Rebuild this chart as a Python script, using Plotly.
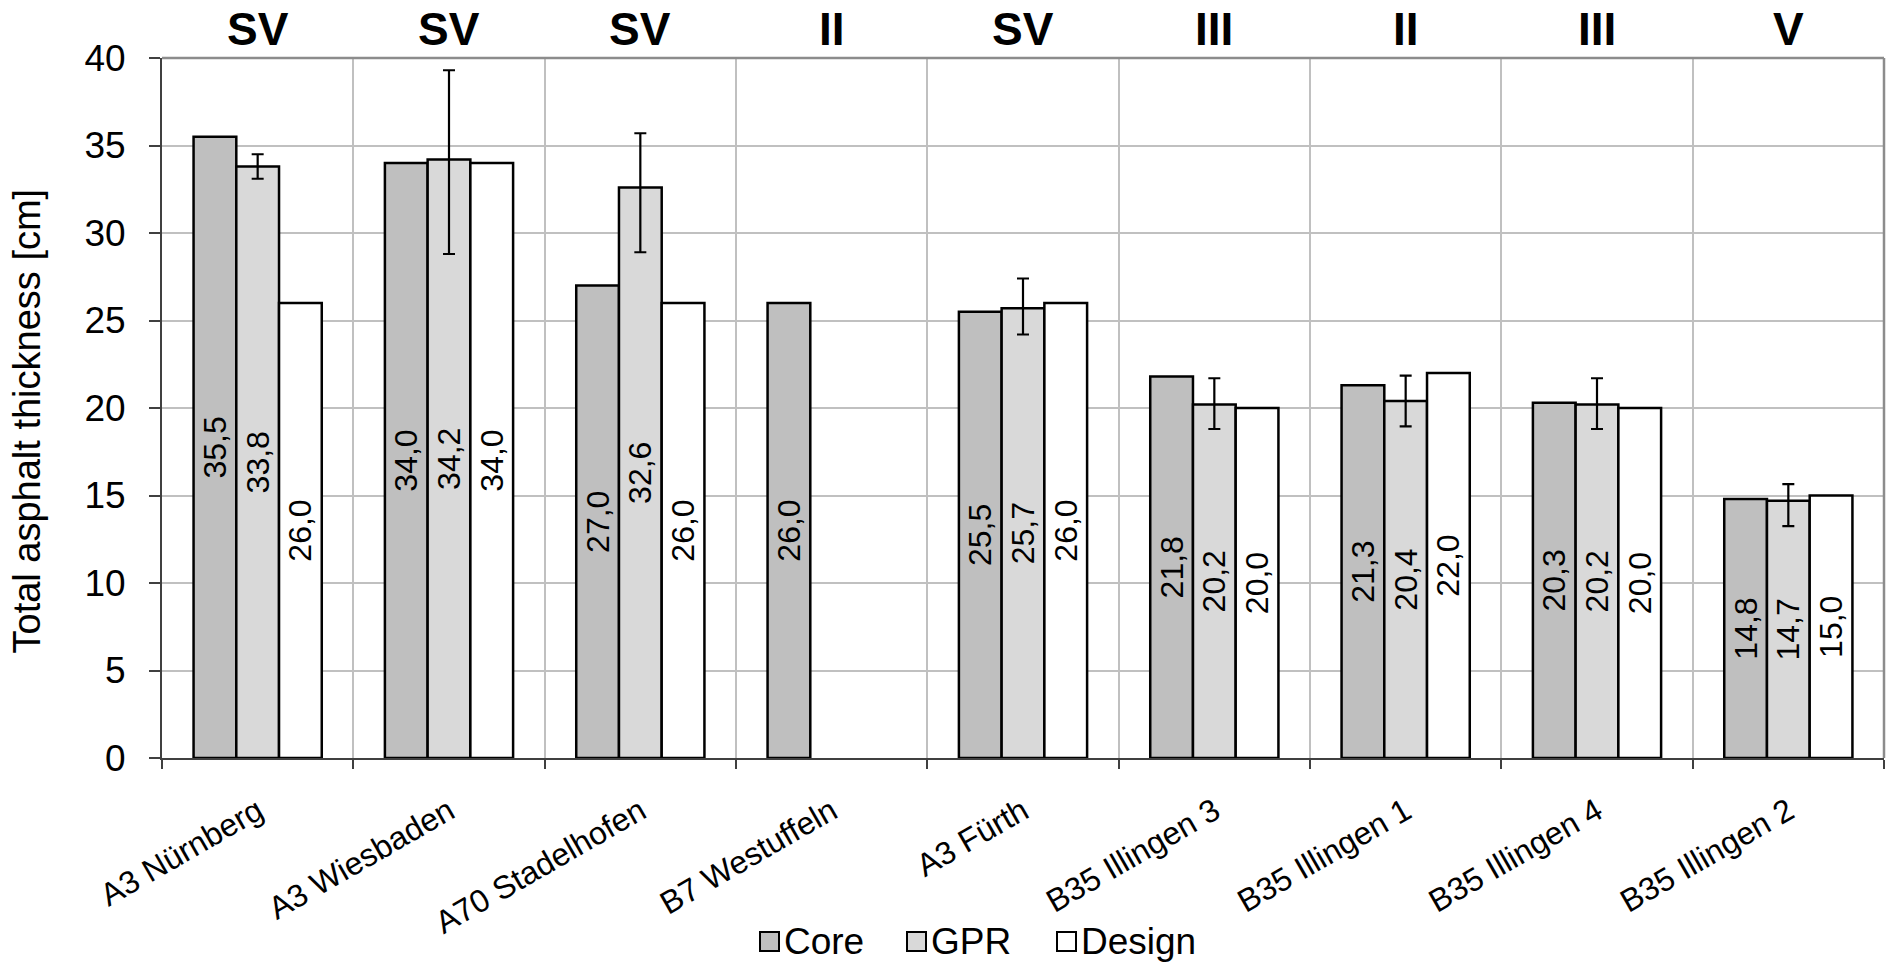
import plotly.graph_objects as go

categories = ["A3 Nürnberg", "A3 Wiesbaden", "A70 Stadelhofen", "B7 Westuffeln", "A3 Fürth",
              "B35 Illingen 3", "B35 Illingen 1", "B35 Illingen 4", "B35 Illingen 2"]
classes = ["SV", "SV", "SV", "II", "SV", "III", "II", "III", "V"]
core = [35.5, 34.0, 27.0, 26.0, 25.5, 21.8, 21.3, 20.3, 14.8]
gpr = [33.8, 34.2, 32.6, None, 25.7, 20.2, 20.4, 20.2, 14.7]
design = [26.0, 34.0, 26.0, None, 26.0, 20.0, 22.0, 20.0, 15.0]
gpr_err_plus = [0.7, 5.1, 3.1, 0, 1.7, 1.5, 1.45, 1.5, 0.95]
gpr_err_minus = [0.7, 5.4, 3.7, 0, 1.5, 1.4, 1.45, 1.4, 1.45]

series_names = ["Core", "GPR", "Design"]
series_colors = ["#BFBFBF", "#D9D9D9", "#FFFFFF"]

FONT = "Liberation Sans, Arial, sans-serif"
W, H = 1887, 962
ML, MR, MT, MB = 162, 3, 58, 204
PW, PH = W - ML - MR, H - MT - MB


def px_x(p):
    return (p - ML) / PW


def px_y(p):
    return (H - MB - p) / PH


def fmt(vals):
    return [("" if v is None else f"{v:.1f}".replace(".", ",")) for v in vals]


fig = go.Figure()
for name, vals, color in zip(series_names, [core, gpr, design], series_colors):
    kw = {}
    if name == "GPR":
        kw["error_y"] = dict(type="data", symmetric=False, array=gpr_err_plus, arrayminus=gpr_err_minus,
                             color="black", thickness=2.2, width=6)
    fig.add_trace(go.Bar(
        name=name, x=categories, y=vals, showlegend=False,
        marker=dict(color=color, line=dict(color="black", width=2.5)),
        text=fmt(vals), textposition="inside", insidetextanchor="middle", textangle=-90,
        textfont=dict(family=FONT, size=32, color="black"), constraintext="none",
        cliponaxis=False, **kw))

# class labels above each category
for c, cl in zip(categories, classes):
    fig.add_annotation(x=c, y=1, xref="x", yref="paper", yanchor="bottom", yshift=1,
                       text=f"<b>{cl}</b>", showarrow=False,
                       font=dict(family=FONT, size=46, color="black"))

# y-axis title
fig.add_annotation(x=px_x(26.5), y=px_y(421), xref="paper", yref="paper",
                   text="Total asphalt thickness [cm]", textangle=-90, showarrow=False,
                   xanchor="center", yanchor="middle",
                   font=dict(family=FONT, size=38, color="black"))

# legend (drawn as boxes + text)
legend_sym_x = [760, 907, 1057]
legend_cy = 941.5
for name, color, sx in zip(series_names, series_colors, legend_sym_x):
    fig.add_shape(type="rect", xref="paper", yref="paper",
                  x0=px_x(sx), x1=px_x(sx + 19), y0=px_y(legend_cy + 9.5), y1=px_y(legend_cy - 9.5),
                  fillcolor=color, line=dict(color="black", width=2))
    fig.add_annotation(x=px_x(sx + 22), y=px_y(legend_cy), xref="paper", yref="paper",
                       text=name, showarrow=False, xanchor="left", yanchor="middle",
                       font=dict(family=FONT, size=37, color="black"))

# plot area top/right border
fig.add_shape(type="line", xref="paper", yref="paper", x0=0, x1=1, y0=1, y1=1,
              line=dict(color="#8C8C8C", width=2.5))
fig.add_shape(type="line", xref="paper", yref="paper", x0=1, x1=1, y0=0, y1=1,
              line=dict(color="#8C8C8C", width=2.5))

fig.update_layout(
    width=W, height=H,
    margin=dict(l=ML, r=MR, t=MT, b=MB),
    paper_bgcolor="white", plot_bgcolor="white",
    barmode="group", bargap=0.33, bargroupgap=0,
    uniformtext=dict(minsize=32, mode="show"),
    font=dict(family=FONT, color="black"),
    showlegend=False,
    xaxis=dict(type="category", range=[-0.5, 8.5], tickson="boundaries", automargin=False,
               showgrid=True, gridcolor="#C0C0C0", gridwidth=2,
               showline=True, linecolor="#404040", linewidth=2,
               ticks="outside", ticklen=9, tickcolor="#404040", tickwidth=1.5,
               tickangle=-30, ticklabelstandoff=20,
               tickfont=dict(family=FONT, size=32, color="black")),
    yaxis=dict(range=[0, 40], dtick=5, showgrid=True, gridcolor="#C0C0C0", gridwidth=2,
               showline=True, linecolor="#404040", linewidth=2, zeroline=False, automargin=False,
               ticks="outside", ticklen=11, tickcolor="#404040", tickwidth=1.5,
               ticklabelstandoff=16,
               tickfont=dict(family=FONT, size=37, color="black")),
)

fig.write_html("out.html")
